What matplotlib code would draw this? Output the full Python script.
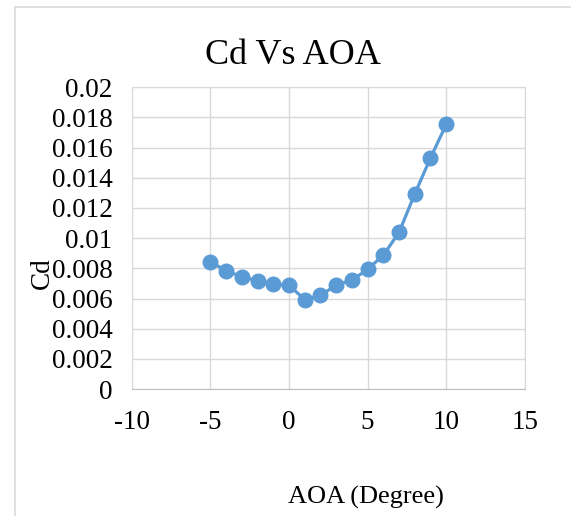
import matplotlib
matplotlib.use("Agg")
import matplotlib.pyplot as plt
from matplotlib.patches import Rectangle
from matplotlib.ticker import MultipleLocator, FuncFormatter

# angle of attack (degrees) and drag coefficient
aoa = [-5, -4, -3, -2, -1, 0, 1, 2, 3, 4, 5, 6, 7, 8, 9, 10]
cd = [0.00845, 0.00782, 0.00745, 0.00716, 0.00698, 0.00687, 0.00593, 0.0062,
      0.00689, 0.00722, 0.00793, 0.00887, 0.01038, 0.01293, 0.01531, 0.01753]

plt.rcParams['font.family'] = ['Liberation Serif', 'DejaVu Serif']
plt.rcParams['axes.unicode_minus'] = False

fig = plt.figure(figsize=(5.71, 5.16), dpi=100)
ax = fig.add_axes([0.231, 0.246, 0.688, 0.585])

# chart border like the spreadsheet frame
fig.patches.append(Rectangle((14.5 / 571, -0.1), 1.2, 1 - 6.5 / 516 + 0.1,
                             transform=fig.transFigure, fill=False,
                             edgecolor='#d9d9d9', linewidth=1.2))

ax.plot(aoa, cd, color='#5b9bd5', linewidth=2.3, marker='o',
        markersize=10.5, zorder=3)

ax.set_xlim(-10, 15)
ax.set_ylim(0, 0.02)
ax.xaxis.set_major_locator(MultipleLocator(5))
ax.yaxis.set_major_locator(MultipleLocator(0.002))
ax.yaxis.set_major_formatter(FuncFormatter(lambda v, p: f"{round(v, 4):g}"))
ax.xaxis.set_major_formatter(FuncFormatter(lambda v, p: f"{v:g}"))
ax.tick_params(length=0, labelsize=19.5, colors='black')
ax.tick_params(axis='x', pad=15)
ax.tick_params(axis='y', pad=14)

ax.grid(True, color='#d9d9d9', linewidth=1)
ax.set_axisbelow(True)
for side in ['top', 'left', 'right']:
    ax.spines[side].set_color('#d9d9d9')
ax.spines['bottom'].set_color('#bfbfbf')

fig.text(293 / 571, 1 - 56 / 516, 'Cd Vs AOA', fontsize=26,
         ha='center', va='center')
fig.text(366 / 571, 1 - 497 / 516, 'AOA (Degree)', fontsize=19,
         ha='center', va='center')
fig.text(42 / 571, 1 - 273 / 516, 'Cd', fontsize=19.5, rotation=90,
         ha='center', va='center')

fig.savefig('out.png', dpi=100)
